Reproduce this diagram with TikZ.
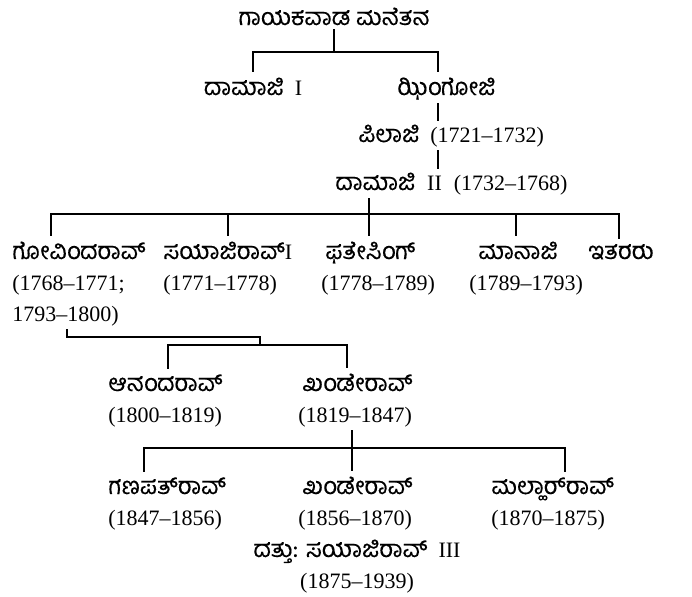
\documentclass[tikz,border=0pt]{standalone}
\usepackage{fontspec}
\setmainfont{Liberation Serif}
\newfontfamily\kn[Script=Kannada,Scale=1.08,FakeBold=0.3]{Hind Mysuru}
\tikzset{
  person/.style={anchor=base west, align=left, inner sep=0pt},
  link/.style={line width=1pt, line cap=rect}
}
\begin{document}
\begin{tikzpicture}[x=0.5pt, y=-0.5pt, font=\fontsize{11}{15.5}\selectfont]
\useasboundingbox (0,0) rectangle (692,596);

% the family (multi-line nodes sit on their last line)
\node[person, anchor=base] (title) at (334,25) {\kn ಗಾಯಕವಾಡ ಮನೆತನ};
\node[person, anchor=base] (damajiI) at (253,95) {{\kn ದಾಮಾಜಿ}\ \ I};
\node[person] (jhingoji) at (397,95) {\kn ಝಿಂಗೋಜಿ};
\node[person] (pilaji) at (358,142) {{\kn ಪಿಲಾಜಿ}\ \ (1721--1732)};
\node[person] (damajiII) at (335,190) {{\kn ದಾಮಾಜಿ}\hspace{6pt}II\hspace{6pt}(1732--1768)};

\node[person] (govind) at (12,321) {{\kn ಗೋವಿಂದರಾವ್}\\(1768--1771;\\1793--1800)};
\node[person] (sayajiI) at (163,290) {{\kn ಸಯಾಜಿರಾವ್}I\\(1771--1778)};
\node[person] (fatesing) at (321,290) {\hspace{2pt}{\kn ಫತೇಸಿಂಗ್}\\(1778--1789)};
\node[person] (manaji) at (469,290) {\hspace{4.5pt}{\kn ಮಾನಾಜಿ}\\(1789--1793)};
\node[person] (itararu) at (588,259) {\kn ಇತರರು};

\node[person] (anand) at (108,422) {{\kn ಆನಂದರಾವ್}\\(1800--1819)};
\node[person] (khandeI) at (298,422) {\hspace{2pt}{\kn ಖಂಡೇರಾವ್}\\(1819--1847)};

\node[person] (ganpat) at (108,525) {{\kn ಗಣಪತ್^^^^200cರಾವ್}\\(1847--1856)};
\node[person] (khandeII) at (298,525) {\hspace{2pt}{\kn ಖಂಡೇರಾವ್}\\(1856--1870)};
\node[person] (malhar) at (491,525) {{\kn ಮಲ್ಹಾರ್^^^^200cರಾವ್}\\(1870--1875)};
\node[person, anchor=base, align=center] (sayajiIII) at (357,588) {{\kn ದತ್ತು: ಸಯಾಜಿರಾವ್}\ \ III\\(1875--1939)};

% rails and columns
\coordinate (r1) at (0,52);
\coordinate (r2) at (0,214);
\coordinate (r3a) at (0,337);
\coordinate (r3) at (0,345);
\coordinate (r4) at (0,448);
\coordinate (cJ) at (438,0);
\coordinate (cG) at (51,0);
\coordinate (cD) at (369,0);
\coordinate (cM) at (516,0);
\coordinate (cI) at (619,0);
\coordinate (cG2) at (67,0);
\coordinate (cS) at (260,0);
\coordinate (cA) at (168,0);
\coordinate (cK) at (347,0);
\coordinate (cKk) at (352,0);
\coordinate (cP) at (144,0);
\coordinate (cL) at (565,0);

% connectors
\draw[link, shorten <=2pt] (title.south) -- (title.south |- r1);
\draw[link, shorten <=3pt, shorten >=3pt] (damajiI.north) |- (r1 -| cJ) -- (jhingoji.north -| cJ);
\draw[link, shorten <=2pt, shorten >=2pt] (jhingoji.south -| cJ) -- (pilaji.north -| cJ);
\draw[link, shorten <=2pt, shorten >=2pt] (pilaji.south -| cJ) -- (damajiII.north -| cJ);

\draw[link, shorten <=2pt, shorten >=3pt] (damajiII.south -| cD) -- (fatesing.north -| cD);
\draw[link, shorten <=3pt, shorten >=3pt] (govind.north -| cG) |- (r2 -| cI) -- (itararu.north -| cI);
\draw[link, shorten >=3pt] (r2 -| sayajiI.north) -- (sayajiI.north);
\draw[link, shorten >=3pt] (r2 -| cM) -- (manaji.north -| cM);

\draw[link, shorten <=2pt] (govind.south -| cG2) |- (r3a -| cS) -- (r3 -| cS);
\draw[link, shorten <=3pt, shorten >=3pt] (anand.north -| cA) |- (r3 -| cK) -- (khandeI.north -| cK);

\draw[link, shorten <=2pt, shorten >=3pt] (khandeI.south -| cKk) -- (khandeII.north -| cKk);
\draw[link, shorten <=3pt, shorten >=3pt] (ganpat.north -| cP) |- (r4 -| cL) -- (malhar.north -| cL);
\end{tikzpicture}
\end{document}
